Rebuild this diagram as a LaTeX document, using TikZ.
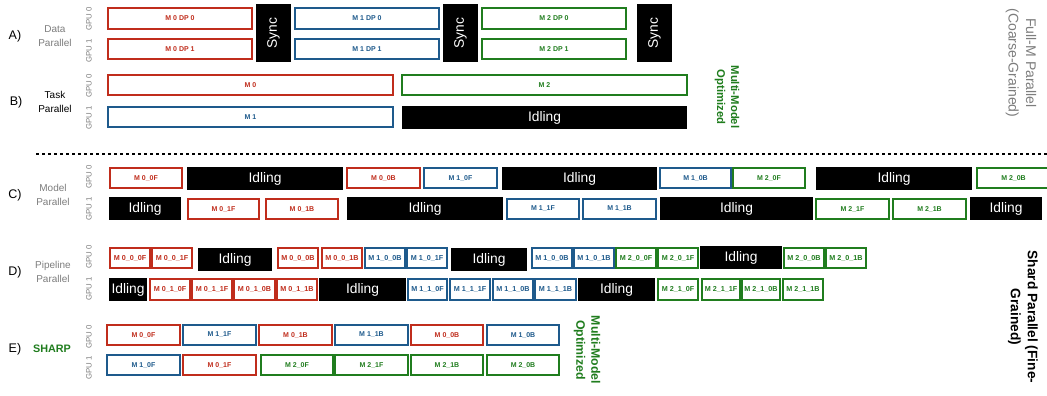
\documentclass[tikz,border=0pt]{standalone}
\usepackage{fontspec}
\usepackage{graphicx}
\setmainfont{Liberation Sans}
\definecolor{mred}{RGB}{192,45,28}
\definecolor{mblue}{RGB}{30,90,140}
\definecolor{mgreen}{RGB}{32,125,30}
\definecolor{mgray}{RGB}{125,125,125}
\tikzset{
  base/.style={draw, line width=1.4pt, fill=white, inner sep=0pt, outer sep=0pt, font=\fontsize{7}{8}\selectfont\bfseries},
  boxr/.style={base, draw=mred, text=mred},
  boxb/.style={base, draw=mblue, text=mblue},
  boxg/.style={base, draw=mgreen, text=mgreen},
  smallbox/.style={font=\fontsize{7.2}{8}\selectfont\bfseries},
  idl/.style={fill=black, text=white, inner sep=0pt, outer sep=0pt, font=\fontsize{13.8}{14}\selectfont},
  gpu/.style={rotate=90, text=mgray, font=\fontsize{7.8}{8}\selectfont, inner sep=0pt},
  lett/.style={font=\fontsize{12.5}{13}\selectfont, inner sep=0pt},
  glab/.style={align=center, text=mgray, font=\fontsize{10}{13.5}\selectfont, inner sep=0pt},
  dotline/.style={line width=2.6pt, dash pattern=on 2.6pt off 3.4pt},
}
\newcommand\bx[7]{\node[#1, minimum width={(#5-#3)*1pt}, minimum height={(#6-#4)*1pt}, anchor=north west] (#2) at (#3,#4) {#7};}
\newcommand\syn{\rotatebox{90}{Sync}}
\begin{document}
\begin{tikzpicture}[x=1pt,y=-1pt]
\clip (0,0) rectangle (1047,396);
\fill[white] (0,0) rectangle (1047,396);
% left labels
\node[lett] (la) at (15,36) {A)};
\node[glab] (ta) at (55,36) {Data\\Parallel};
\node[lett] (lb) at (16,102) {B)};
\node[glab, text=black] (tb) at (55,102) {Task\\Parallel};
\node[lett] (lc) at (15,195) {C)};
\node[glab] (tc) at (53,195) {Model\\Parallel};
\node[lett] (ld) at (15,272) {D)};
\node[glab] (td) at (53,272) {Pipeline\\Parallel};
\node[lett] (le) at (15,349) {E)};
\node[font=\fontsize{10.8}{12}\selectfont\bfseries, text=mgreen, inner sep=0pt] (te) at (52,349) {SHARP};
% GPU labels
\node[gpu] (ga0) at (89,19) {GPU 0};
\node[gpu] (ga1) at (89,51) {GPU 1};
\node[gpu] (gb0) at (89,86) {GPU 0};
\node[gpu] (gb1) at (89,118) {GPU 1};
\node[gpu] (gc0) at (89,177) {GPU 0};
\node[gpu] (gc1) at (89,209) {GPU 1};
\node[gpu] (gd0) at (89,257) {GPU 0};
\node[gpu] (gd1) at (89,289) {GPU 1};
\node[gpu] (ge0) at (89,337) {GPU 0};
\node[gpu] (ge1) at (89,368) {GPU 1};
% Row A
\bx{boxr}{a00}{108}{8}{252}{29}{M 0 DP 0}
\bx{boxr}{a01}{108}{39}{252}{59}{M 0 DP 1}
\bx{idl}{s1}{256}{4}{291}{62}{\syn}
\bx{boxb}{a10}{295}{8}{439}{29}{M 1 DP 0}
\bx{boxb}{a11}{295}{39}{439}{59}{M 1 DP 1}
\bx{idl}{s2}{443}{4}{478}{62}{\syn}
\bx{boxg}{a20}{482}{8}{626}{29}{M 2 DP 0}
\bx{boxg}{a21}{482}{39}{626}{59}{M 2 DP 1}
\bx{idl}{s3}{637}{4}{672}{62}{\syn}
% Row B
\bx{boxr}{b0}{108}{75}{393}{95}{M 0}
\bx{boxb}{b1}{108}{107}{393}{127}{M 1}
\bx{boxg}{b2}{402}{75}{687}{95}{M 2}
\bx{idl}{bi}{402}{106}{687}{129}{Idling}
\node[align=center, rotate=-90, text=mgreen, font=\fontsize{11.3}{14}\selectfont\bfseries, inner sep=0pt] (mmo1) at (727,97) {Multi-Model\\Optimized};
\node[align=center, rotate=-90, text=mgray, font=\fontsize{14}{17.5}\selectfont, inner sep=0pt] (fm) at (1021,63) {Full-M Parallel\\(Coarse-Grained)};
% dotted separator
\coordinate (dl) at (36,154);
\coordinate (dr) at (1047,154);
\draw[dotline] (dl) -- (dr);
% Row C GPU0
\bx{boxr}{c1}{110}{168}{182}{188}{M 0\_0F}
\bx{idl}{ci1}{187}{167}{343}{190}{Idling}
\bx{boxr}{c2}{347}{168}{420}{188}{M 0\_0B}
\bx{boxb}{c3}{424}{168}{497}{188}{M 1\_0F}
\bx{idl}{ci2}{502}{167}{657}{190}{Idling}
\bx{boxb}{c4}{660}{168}{731}{188}{M 1\_0B}
\bx{boxg}{c5}{733}{168}{805}{188}{M 2\_0F}
\bx{idl}{ci3}{816}{167}{972}{190}{Idling}
\bx{boxg}{c6}{977}{168}{1050}{188}{M 2\_0B}
% Row C GPU1
\bx{idl}{ci4}{109}{197}{181}{220}{Idling}
\bx{boxr}{c7}{188}{199}{259}{219}{M 0\_1F}
\bx{boxr}{c8}{266}{199}{338}{219}{M 0\_1B}
\bx{idl}{ci5}{347}{197}{503}{220}{Idling}
\bx{boxb}{c9}{507}{199}{579}{219}{M 1\_1F}
\bx{boxb}{c10}{583}{199}{656}{219}{M 1\_1B}
\bx{idl}{ci6}{660}{197}{813}{220}{Idling}
\bx{boxg}{c11}{816}{199}{889}{219}{M 2\_1F}
\bx{boxg}{c12}{893}{199}{966}{219}{M 2\_1B}
\bx{idl}{ci7}{970}{197}{1042}{220}{Idling}
% Row D GPU0
\bx{boxr,smallbox}{d1}{110}{248}{150}{268}{M 0\_0\_0F}
\bx{boxr,smallbox}{d2}{152}{248}{192}{268}{M 0\_0\_1F}
\bx{idl}{di1}{198}{248}{272}{271}{Idling}
\bx{boxr,smallbox}{d3}{278}{248}{318}{268}{M 0\_0\_0B}
\bx{boxr,smallbox}{d4}{322}{248}{362}{268}{M 0\_0\_1B}
\bx{boxb,smallbox}{d5}{365}{248}{405}{268}{M 1\_0\_0B}
\bx{boxb,smallbox}{d6}{407}{248}{447}{268}{M 1\_0\_1F}
\bx{idl}{di2}{451}{248}{527}{271}{Idling}
\bx{boxb,smallbox}{d7}{532}{248}{572}{268}{M 1\_0\_0B}
\bx{boxb,smallbox}{d8}{574}{248}{614}{268}{M 1\_0\_1B}
\bx{boxg,smallbox}{d9}{616}{248}{656}{268}{M 2\_0\_0F}
\bx{boxg,smallbox}{d10}{658}{248}{698}{268}{M 2\_0\_1F}
\bx{idl}{di3}{700}{246}{782}{269}{Idling}
\bx{boxg,smallbox}{d11}{784}{248}{824}{268}{M 2\_0\_0B}
\bx{boxg,smallbox}{d12}{826}{248}{866}{268}{M 2\_0\_1B}
% Row D GPU1
\bx{idl}{di4}{109}{278}{147}{301}{Idling}
\bx{boxr,smallbox}{d13}{150}{279}{190}{300}{M 0\_1\_0F}
\bx{boxr,smallbox}{d14}{192}{279}{232}{300}{M 0\_1\_1F}
\bx{boxr,smallbox}{d15}{234}{279}{275}{300}{M 0\_1\_0B}
\bx{boxr,smallbox}{d16}{277}{279}{317}{300}{M 0\_1\_1B}
\bx{idl}{di5}{319}{278}{406}{301}{Idling}
\bx{boxb,smallbox}{d17}{408}{279}{447}{300}{M 1\_1\_0F}
\bx{boxb,smallbox}{d18}{450}{279}{490}{300}{M 1\_1\_1F}
\bx{boxb,smallbox}{d19}{493}{279}{533}{300}{M 1\_1\_0B}
\bx{boxb,smallbox}{d20}{535}{279}{576}{300}{M 1\_1\_1B}
\bx{idl}{di6}{578}{278}{655}{301}{Idling}
\bx{boxg,smallbox}{d21}{658}{279}{698}{300}{M 2\_1\_0F}
\bx{boxg,smallbox}{d22}{702}{279}{740}{300}{M 2\_1\_1F}
\bx{boxg,smallbox}{d23}{742}{279}{780}{300}{M 2\_1\_0B}
\bx{boxg,smallbox}{d24}{783}{279}{823}{300}{M 2\_1\_1B}
% Row E
\bx{boxr}{e1}{107}{325}{180}{345}{M 0\_0F}
\bx{boxb}{e2}{183}{325}{256}{345}{M 1\_1F}
\bx{boxr}{e3}{259}{325}{332}{345}{M 0\_1B}
\bx{boxb}{e4}{335}{325}{408}{345}{M 1\_1B}
\bx{boxr}{e5}{411}{325}{483}{345}{M 0\_0B}
\bx{boxb}{e6}{487}{325}{559}{345}{M 1\_0B}
\bx{boxb}{e7}{107}{355}{180}{375}{M 1\_0F}
\bx{boxr}{e8}{183}{355}{256}{375}{M 0\_1F}
\bx{boxg}{e9}{261}{355}{333}{375}{M 2\_0F}
\bx{boxg}{e10}{335}{355}{408}{375}{M 2\_1F}
\bx{boxg}{e11}{411}{355}{483}{375}{M 2\_1B}
\bx{boxg}{e12}{487}{355}{559}{375}{M 2\_0B}
\node[align=center, rotate=-90, text=mgreen, font=\fontsize{12.3}{15}\selectfont\bfseries, inner sep=0pt] (mmo2) at (587,350) {Multi-Model\\Optimized};
\node[align=center, rotate=-90, font=\fontsize{13.7}{17}\selectfont\bfseries, inner sep=0pt] (sp) at (1023,317) {Shard Parallel (Fine-\\Grained)};
\end{tikzpicture}
\end{document}
